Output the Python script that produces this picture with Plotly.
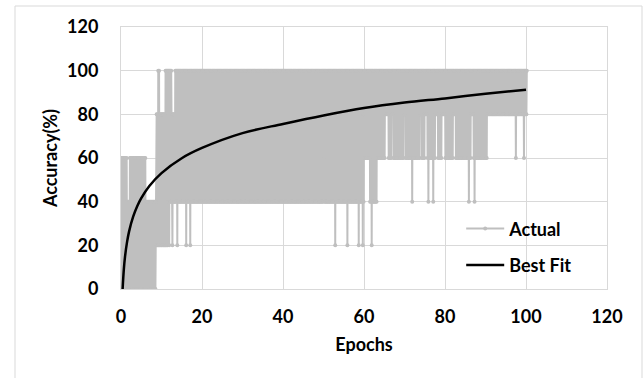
import numpy as np
import plotly.graph_objects as go

# ---- Data ----
# Upper envelope of the "Actual" series: value holds from each break epoch to the next
high_breaks = [0.0, 1.5, 2.2, 6.2, 8.7, 9.2, 9.6, 10.9, 12.5, 13.3, 59.8, 60.0]
high_values = [60, 40, 60, 40, 80, 100, 80, 100, 80, 100, 80, 100]

# Lower envelope of the "Actual" series
low_breaks = [0.0, 8.7, 11.6, 50.0, 50.3, 60.0, 61.5, 63.3, 90.5]
low_values = [0, 20, 40, 60, 40, 60, 40, 60, 80]

# Short stretches where the series stays at 80-100 (white stripes in the band)
gap_start = [65.2, 66.8, 69.9, 73.8, 75.1, 77.6, 79.3, 82.0, 86.4]
gap_end = [65.9, 67.2, 70.2, 74.2, 75.5, 78.2, 79.9, 82.5, 86.9]

# Isolated dips below the band (epoch, accuracy)
dip_epochs = [11.9, 12.7, 13.9, 16.0, 17.1, 52.8, 55.9, 58.6, 59.7, 61.9,
              62.7, 71.8, 75.9, 77.0, 85.9, 87.2, 97.5, 99.5]
dip_values = [20, 20, 20, 20, 20, 20, 20, 20, 20, 20,
              40, 40, 40, 40, 40, 40, 60, 60]

last_epoch = 100.2
sample_step = 0.1

# Logarithmic best-fit curve read at these epochs
fit_epochs = [0.4, 0.7, 1, 1.5, 2, 3, 4, 5, 7, 10, 15, 20, 30, 40, 50, 60, 70, 80, 90, 100]
fit_values = [0, 9.0, 14.9, 21.6, 26.4, 33.1, 37.9, 41.6, 47.2, 53.1, 59.9, 64.6,
              71.4, 75.6, 79.5, 82.9, 85.4, 87.3, 89.4, 91.3]

# ---- Build the sampled series ----
xs = np.round(np.arange(0, last_epoch + 1e-9, sample_step), 3)


def env(x, breaks, vals):
    idx = np.searchsorted(breaks, x, side="right") - 1
    return vals[max(idx, 0)]


ys = []
for i, x in enumerate(xs):
    if i % 2 == 0:
        ys.append(env(x, high_breaks, high_values))
    else:
        lo = env(x, low_breaks, low_values)
        for a, b in zip(gap_start, gap_end):
            if a <= x <= b:
                lo = 80
        ys.append(lo)
ys = np.array(ys, dtype=float)
for e, v in zip(dip_epochs, dip_values):
    i = int(round(e / sample_step))
    if i % 2 == 0:
        i += 1
    ys[i] = v

gray = "#BFBFBF"
font_family = "Lato, 'Open Sans', sans-serif"
fs = 18

fig = go.Figure()
fig.add_trace(go.Scatter(
    x=xs, y=ys, mode="lines+markers", name="Actual",
    line=dict(color=gray, width=2),
    marker=dict(color=gray, size=4),
    legendgroup="a",
))
fig.add_trace(go.Scatter(
    x=fit_epochs, y=fit_values, mode="lines", name="Best Fit",
    line=dict(color="black", width=2.5, shape="spline"),
    legendgroup="b",
))

axis_common = dict(
    range=[0, 120], dtick=20, showgrid=True, gridcolor="#D9D9D9", gridwidth=1,
    zeroline=False, showline=True, mirror=True, linecolor="#D9D9D9", linewidth=1,
    ticks="", tickfont=dict(family=font_family, size=fs, color="black", weight="bold"),
)

fig.update_layout(
    width=644, height=378,
    margin=dict(l=121, r=37, t=27, b=89),
    paper_bgcolor="white", plot_bgcolor="white",
    font=dict(family=font_family, color="black"),
    xaxis=dict(**axis_common, ticklabelstandoff=11,
               title=dict(text="Epochs", font=dict(family=font_family, size=fs, color="black", weight="bold"),
                          standoff=12)),
    yaxis=dict(**axis_common, ticklabelstandoff=18,
               title=dict(text="Accuracy(%)", font=dict(family=font_family, size=fs, color="black", weight="bold"),
                          standoff=4)),
    showlegend=True,
    legend=dict(x=0.70, y=0.30, xanchor="left", yanchor="top", bgcolor="rgba(0,0,0,0)",
                font=dict(family=font_family, size=fs, color="black", weight="bold"),
                traceorder="grouped", tracegroupgap=10, itemwidth=38),
    shapes=[dict(type="rect", xref="paper", yref="paper",
                 x0=(15 - 121) / 486, x1=(642 - 121) / 486,
                 y0=(289 - 385) / 262, y1=(289 - 6) / 262,
                 line=dict(color="#D9D9D9", width=1), layer="below")],
)

fig.write_html("out.html")
